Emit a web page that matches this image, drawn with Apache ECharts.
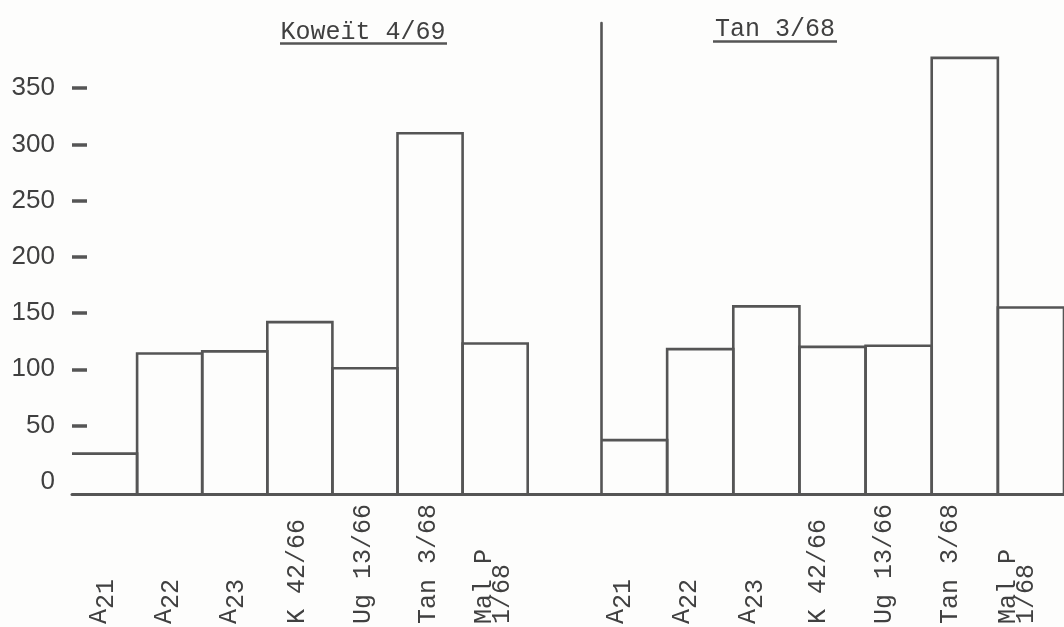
<!DOCTYPE html>
<html>
<head>
<meta charset="utf-8">
<script src="https://cdn.jsdelivr.net/npm/echarts@6/dist/echarts.min.js"></script>
<style>
html, body { margin: 0; padding: 0; background: #fdfdfc; }
#chart { width: 1064px; height: 627px; }
</style>
</head>
<body>
<div id="chart"></div>
<script>
// ---- data ----
const panelTitles = ['Koweït 4/69', 'Tan 3/68'];
const leftCategories = ['A21', 'A22', 'A23', 'K 42/66', 'Ug 13/66', 'Tan 3/68', 'Mal P\n1/68', ''];
const rightCategories = ['A21', 'A22', 'A23', 'K 42/66', 'Ug 13/66', 'Tan 3/68', 'Mal P\n1/68'];
const leftValues = [25, 114, 116, 142, 101, 310, 123];
const rightValues = [37, 118, 156, 120, 121, 377, 155];
const yLabelValues = [0, 50, 100, 150, 200, 250, 300, 350];
const yTickValues = [50, 100, 150, 200, 250, 300, 350];

// ---- style ----
const INK = '#555555';
const TEXT = '#404040';
const Y_MIN = -10;
const Y_MAX = 408;
const MONO = '"Liberation Mono", "DejaVu Sans Mono", monospace';
const XFONT = 25;

function xLabelFormatter(v) {
  const m = /^A(\d+)$/.exec(v);
  if (m) return '{a|A}{s|' + m[1] + '}';
  return v;
}

const richStyles = {
  a: { fontFamily: MONO, fontSize: XFONT, color: TEXT, verticalAlign: 'middle', padding: [0, 0, 7, 0] },
  s: { fontFamily: MONO, fontSize: XFONT, color: TEXT, verticalAlign: 'middle', padding: [7, 0, 0, 0] }
};

function barRenderer(params, api) {
  const i = api.value(0);
  const v = api.value(1);
  const top = api.coord([i, v]);
  const base = api.coord([i, Y_MIN]);
  const w = api.size([1, 0])[0];
  const x0 = top[0] - w / 2;
  const x1 = top[0] + w / 2;
  const pts = i === 0
    ? [[x0, top[1]], [x1, top[1]], [x1, base[1]]]
    : [[x0, base[1]], [x0, top[1]], [x1, top[1]], [x1, base[1]]];
  return {
    type: 'polyline',
    shape: { points: pts },
    style: { stroke: INK, lineWidth: 2.6, fill: null }
  };
}

function xAxisFor(gridIndex, cats, pad) {
  return {
    type: 'category',
    gridIndex: gridIndex,
    data: cats,
    boundaryGap: true,
    axisLine: { show: false, onZero: false },
    axisTick: { show: false },
    splitLine: { show: false },
    axisLabel: {
      interval: 0,
      rotate: 90,
      align: 'left',
      verticalAlign: 'middle',
      margin: 131,
      fontFamily: MONO,
      fontSize: XFONT,
      lineHeight: 18,
      color: TEXT,
      padding: pad,
      formatter: xLabelFormatter,
      rich: richStyles
    }
  };
}

const chart = echarts.init(document.getElementById('chart'), null, { renderer: 'canvas' });

const option = {
  backgroundColor: '#fdfdfc',
  animation: false,
  title: [
    {
      text: panelTitles[0], left: 363, top: 20, textAlign: 'center', padding: 0,
      textStyle: { fontFamily: MONO, fontSize: 25, fontWeight: 'normal', color: TEXT }
    },
    {
      text: panelTitles[1], left: 775, top: 17, textAlign: 'center', padding: 0,
      textStyle: { fontFamily: MONO, fontSize: 25, fontWeight: 'normal', color: TEXT }
    }
  ],
  graphic: [
    { type: 'line', shape: { x1: 280, y1: 43.5, x2: 447, y2: 43.5 }, style: { stroke: INK, lineWidth: 2.5 } },
    { type: 'line', shape: { x1: 713, y1: 41.5, x2: 837, y2: 41.5 }, style: { stroke: INK, lineWidth: 2.5 } }
  ],
  grid: [
    { left: 72, top: 23, bottom: 133, width: 8 * 65.1 },
    { left: 601, top: 23, bottom: 133, width: 7 * 67.2 },
    { left: 72, top: 23, bottom: 133, right: 0 }
  ],
  xAxis: [
    xAxisFor(0, leftCategories, [0, 0, 4, 0]),
    xAxisFor(1, rightCategories, [0, 0, 28, 0]),
    {
      type: 'value', gridIndex: 2, min: 0, max: 1,
      axisLine: { show: true, onZero: false, lineStyle: { color: INK, width: 3 } },
      axisTick: { show: false }, axisLabel: { show: false }, splitLine: { show: false }
    }
  ],
  yAxis: [
    {
      type: 'value', gridIndex: 0, min: Y_MIN, max: Y_MAX,
      axisLine: { show: false },
      splitLine: { show: false },
      axisTick: {
        show: true, inside: true, length: 15, customValues: yTickValues,
        lineStyle: { color: INK, width: 3.5 }
      },
      axisLabel: {
        customValues: yLabelValues, margin: 17,
        fontFamily: '"Liberation Sans", Arial, sans-serif', fontSize: 26, color: TEXT
      }
    },
    {
      type: 'value', gridIndex: 1, min: Y_MIN, max: Y_MAX,
      axisLine: { show: true, lineStyle: { color: INK, width: 2.6 } },
      axisTick: { show: false }, axisLabel: { show: false }, splitLine: { show: false }
    },
    {
      type: 'value', gridIndex: 2, min: 0, max: 1, show: false
    }
  ],
  series: [
    {
      type: 'custom', xAxisIndex: 0, yAxisIndex: 0, clip: false,
      encode: { x: 0, y: 1 },
      data: leftValues.map((v, i) => [i, v]),
      renderItem: barRenderer
    },
    {
      type: 'custom', xAxisIndex: 1, yAxisIndex: 1, clip: false,
      encode: { x: 0, y: 1 },
      data: rightValues.map((v, i) => [i, v]),
      renderItem: barRenderer
    }
  ]
};

chart.setOption(option);
</script>
</body>
</html>
